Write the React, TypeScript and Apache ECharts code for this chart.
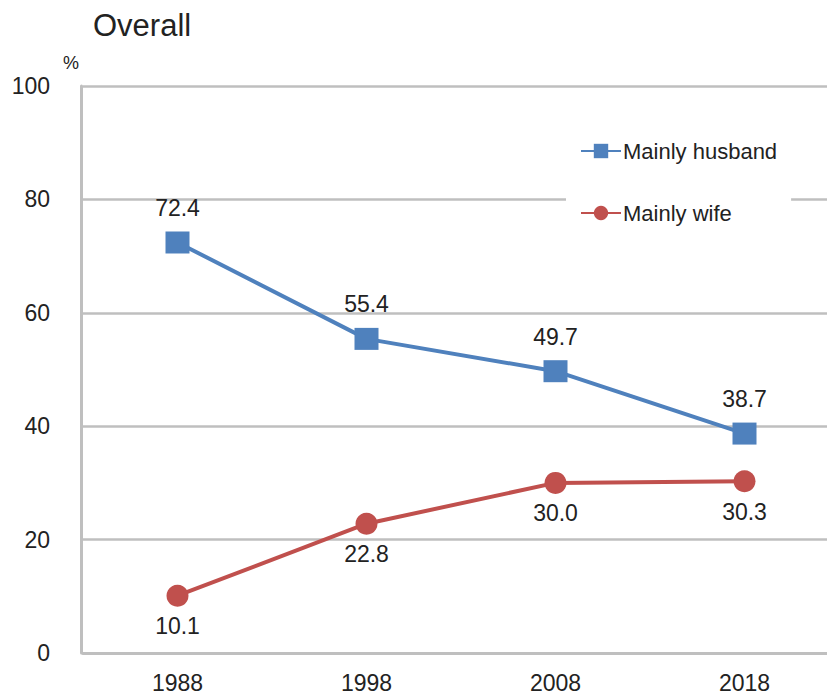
import React, { useEffect, useRef } from "react";
import * as echarts from "echarts";

const years = ["1988", "1998", "2008", "2018"];
const husband = [72.4, 55.4, 49.7, 38.7];
const wife = [10.1, 22.8, 30.0, 30.3];

export default function App() {
  const ref = useRef<HTMLDivElement>(null);
  useEffect(() => {
    const chart = echarts.init(ref.current!, null, { renderer: "svg" });
    const font = "Liberation Sans, Arial, sans-serif";
    chart.setOption({
      animation: false,
      backgroundColor: "#ffffff",
      textStyle: { fontFamily: font },
      title: {
        text: "Overall",
        left: 88,
        top: 5,
        textStyle: { fontSize: 31, fontWeight: "normal", color: "#222", fontFamily: font },
      },
      legend: {
        left: 566,
        top: 134,
        orient: "vertical",
        itemGap: 40,
        itemWidth: 40,
        itemHeight: 18,
        backgroundColor: "#ffffff",
        padding: [6, 14, 6, 14],
        textStyle: { fontSize: 22, color: "#222", fontFamily: font, padding: [0, 0, 0, -3] },
        data: ["Mainly husband", "Mainly wife"],
      },
      grid: { left: 83, top: 86, width: 756, height: 567, containLabel: false },
      xAxis: {
        type: "category",
        data: years,
        boundaryGap: true,
        axisLine: { lineStyle: { color: "#bfbfbf", width: 3 } },
        axisTick: { show: false },
        axisLabel: { fontSize: 23, color: "#222", margin: 18, fontFamily: font },
      },
      yAxis: {
        type: "value",
        min: 0,
        max: 100,
        interval: 20,
        offset: 2,
        name: "%",
        nameGap: 14,
        nameLocation: "end",
        nameTextStyle: { fontSize: 18, color: "#222", align: "right", padding: [0, 2, 0, 0] },
        axisLine: { show: true, lineStyle: { color: "#bfbfbf", width: 3 } },
        axisTick: { show: false },
        axisLabel: { fontSize: 23, color: "#222", margin: 31, fontFamily: font },
        splitLine: { lineStyle: { color: "#bfbfbf", width: 2.5 } },
      },
      series: [
        {
          name: "Mainly husband",
          type: "line",
          data: husband,
          symbol: "rect",
          symbolSize: [24, 22],
          z: 3,
          lineStyle: { color: "#4f81bd", width: 4 },
          itemStyle: { color: "#4f81bd" },
          label: {
            show: true,
            position: "top",
            distance: 12,
            fontSize: 23,
            color: "#222",
            formatter: (p: any) => p.value.toFixed(1),
          },
        },
        {
          name: "Mainly wife",
          type: "line",
          data: wife,
          symbol: "circle",
          symbolSize: 22,
          z: 3,
          lineStyle: { color: "#c0504d", width: 4 },
          itemStyle: { color: "#c0504d" },
          label: {
            show: true,
            position: "bottom",
            distance: 8,
            fontSize: 23,
            color: "#222",
            formatter: (p: any) => p.value.toFixed(1),
          },
        },
      ],
    });
    return () => chart.dispose();
  }, []);
  return (
    <div
      ref={ref}
      style={{ position: "fixed", left: 0, top: 0, width: 850, height: 698 }}
    />
  );
}
